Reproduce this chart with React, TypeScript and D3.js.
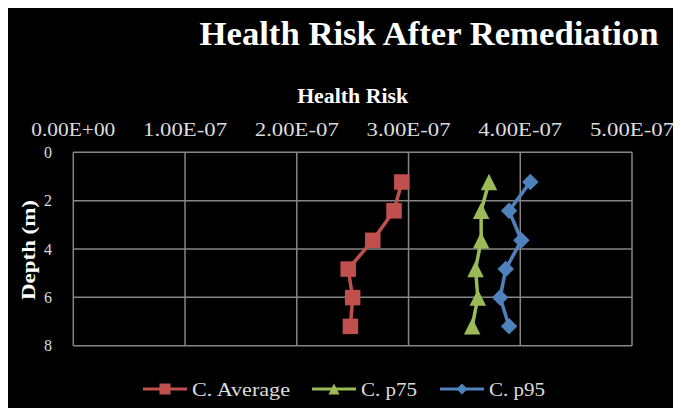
import React from "react";
import * as d3 from "d3";

const depths = [1.23, 2.42, 3.64, 4.83, 6.01, 7.2];
const cAverage = [2.94e-7, 2.87e-7, 2.68e-7, 2.46e-7, 2.5e-7, 2.48e-7];
const cP75 = [3.72e-7, 3.65e-7, 3.65e-7, 3.6e-7, 3.62e-7, 3.57e-7];
const cP95 = [4.09e-7, 3.9e-7, 4.01e-7, 3.87e-7, 3.82e-7, 3.9e-7];
const xTickValues = [0, 1e-7, 2e-7, 3e-7, 4e-7, 5e-7];
const xTickLabels = ["0.00E+00", "1.00E-07", "2.00E-07", "3.00E-07", "4.00E-07", "5.00E-07"];
const yTickValues = [0, 2, 4, 6, 8];
const seriesNames = ["C. Average", "C. p75", "C. p95"];
const seriesColors = ["#C0504D", "#9BBB59", "#4F81BD"];
const seriesShapes = ["square", "triangle", "diamond"];

const FONT = "'Liberation Serif', 'Times New Roman', serif";

function markerPath(shape: string, s: number): string {
  const h = s / 2;
  if (shape === "square") return `M${-h},${-h}H${h}V${h}H${-h}Z`;
  if (shape === "triangle") return `M0,${-h}L${h},${h}L${-h},${h}Z`;
  return `M0,${-h}L${h},0L0,${h}L${-h},0Z`;
}

export default function App() {
  const W = 681;
  const H = 408;
  const left = 73.3, right = 632, top = 152.3, bottom = 345.7;
  const x = d3.scaleLinear().domain([0, 5e-7]).range([left, right]);
  const y = d3.scaleLinear().domain([0, 8]).range([top, bottom]);
  const allSeries = [cAverage, cP75, cP95];
  const line = d3
    .line<[number, number]>()
    .x((d) => x(d[0]))
    .y((d) => y(d[1]));

  const legendX = [143, 312, 440];
  const legendTextLen = [98, 56, 56];
  const legendY = 389;

  return (
    <svg width={W - 8} height={H - 8} style={{ display: "block" }}>
      <g transform="translate(-8,-8)">
        <rect x={8} y={8} width={W - 8} height={H - 8} fill="#000" />
        <text
          x={199.5}
          y={45}
          fill="#fff"
          fontFamily={FONT}
          fontWeight="bold"
          fontSize={34}
          textLength={459}
          lengthAdjust="spacingAndGlyphs"
        >
          Health Risk After Remediation
        </text>
        <text
          x={(left + right) / 2}
          y={103}
          fill="#fff"
          fontFamily={FONT}
          fontWeight="bold"
          fontSize={21}
          textAnchor="middle"
          textLength={111}
          lengthAdjust="spacingAndGlyphs"
        >
          Health Risk
        </text>
        {xTickValues.map((v, i) => (
          <text
            key={"xt" + i}
            x={x(v)}
            y={136}
            fill="#dcdcdc"
            fontFamily={FONT}
            fontSize={19}
            textAnchor="middle"
            textLength={84}
            lengthAdjust="spacingAndGlyphs"
          >
            {xTickLabels[i]}
          </text>
        ))}
        {yTickValues.map((v) => (
          <text
            key={"yt" + v}
            x={48}
            y={y(v) + 5.5}
            fill="#dcdcdc"
            fontFamily={FONT}
            fontSize={16}
            textAnchor="middle"
          >
            {v}
          </text>
        ))}
        <text
          transform={`translate(29,250) rotate(-90)`}
          fill="#fff"
          fontFamily={FONT}
          fontWeight="bold"
          fontSize={18}
          textAnchor="middle"
          dy="0.35em"
          textLength={100}
          lengthAdjust="spacingAndGlyphs"
        >
          Depth (m)
        </text>
        {xTickValues.map((v, i) => (
          <line key={"gx" + i} x1={x(v)} x2={x(v)} y1={top} y2={bottom} stroke="#868686" strokeWidth={1.5} />
        ))}
        {yTickValues.map((v) => (
          <line key={"gy" + v} x1={left} x2={right} y1={y(v)} y2={y(v)} stroke="#868686" strokeWidth={1.5} />
        ))}
        {allSeries.map((vals, si) => {
          const pts: [number, number][] = vals.map((v, i) => [v, depths[i]]);
          return (
            <g key={"s" + si}>
              <path d={line(pts) || ""} fill="none" stroke={seriesColors[si]} strokeWidth={3.5} strokeLinejoin="round" />
              {pts.map((p, i) => (
                <path
                  key={i}
                  transform={`translate(${x(p[0])},${y(p[1])})`}
                  d={markerPath(seriesShapes[si], seriesShapes[si] === "square" ? 15.5 : 16.5)}
                  fill={seriesColors[si]}
                />
              ))}
            </g>
          );
        })}
        {seriesNames.map((name, si) => (
          <g key={"lg" + si}>
            <line
              x1={legendX[si]}
              x2={legendX[si] + 44}
              y1={legendY}
              y2={legendY}
              stroke={seriesColors[si]}
              strokeWidth={3}
            />
            <path
              transform={`translate(${legendX[si] + 22},${legendY})`}
              d={markerPath(seriesShapes[si], 11)}
              fill={seriesColors[si]}
            />
            <text
              x={legendX[si] + 49}
              y={legendY + 6.5}
              fill="#dcdcdc"
              fontFamily={FONT}
              fontSize={19}
              textLength={legendTextLen[si]}
              lengthAdjust="spacingAndGlyphs"
            >
              {name}
            </text>
          </g>
        ))}
      </g>
    </svg>
  );
}
